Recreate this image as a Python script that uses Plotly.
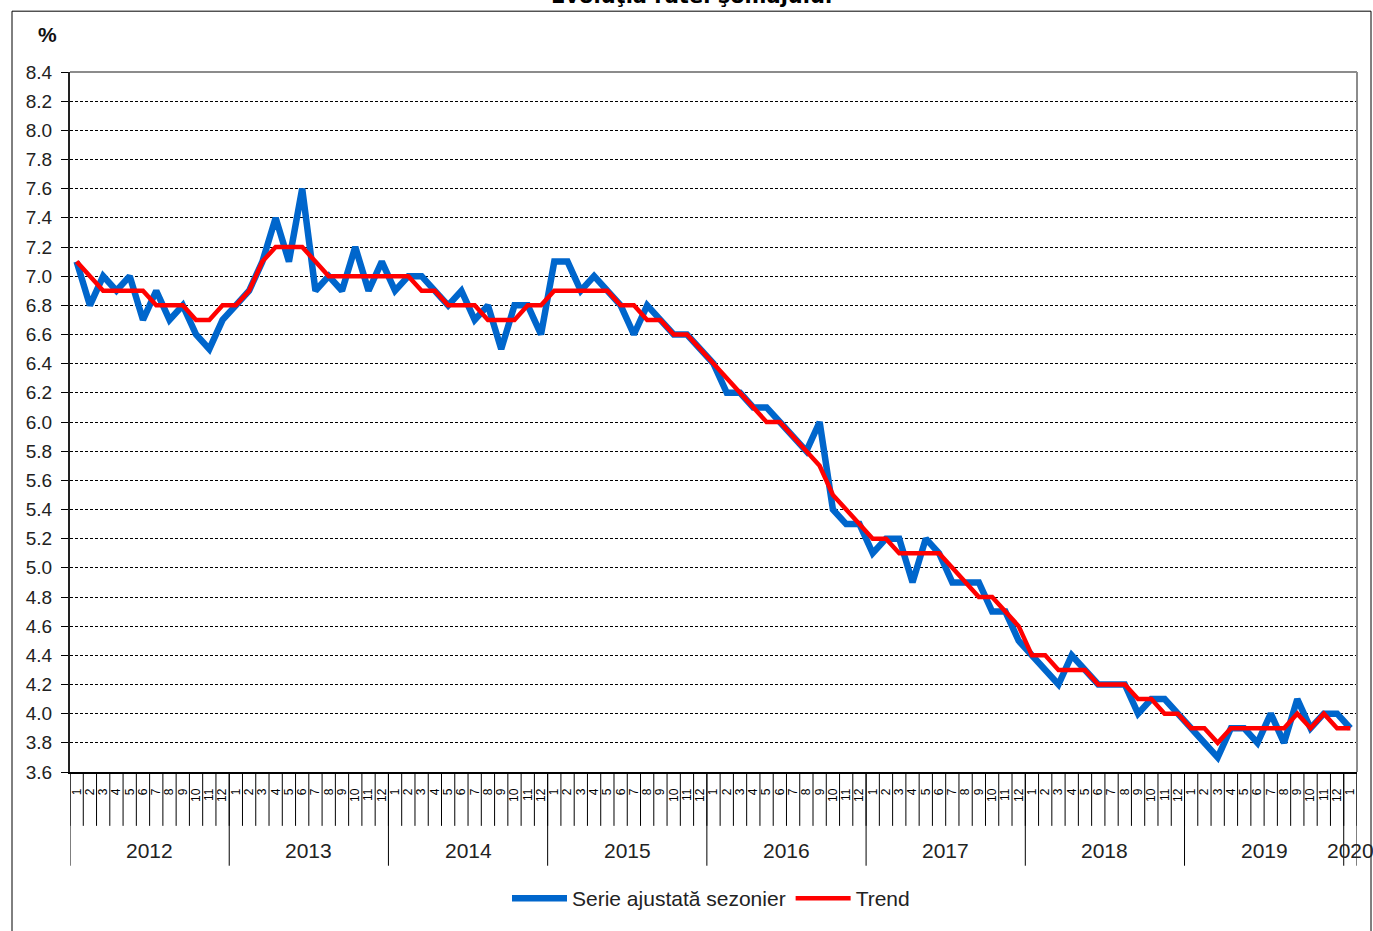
import plotly.graph_objects as go

# ---------------- data ----------------
years = [2012, 2013, 2014, 2015, 2016, 2017, 2018, 2019, 2020]
month_labels = [str(m) for y in years[:-1] for m in range(1, 13)] + ["1"]

seasonally_adjusted = [
    7.1, 6.8, 7.0, 6.9, 7.0, 6.7, 6.9, 6.7, 6.8, 6.6, 6.5, 6.7,   # 2012
    6.8, 6.9, 7.1, 7.4, 7.1, 7.6, 6.9, 7.0, 6.9, 7.2, 6.9, 7.1,   # 2013
    6.9, 7.0, 7.0, 6.9, 6.8, 6.9, 6.7, 6.8, 6.5, 6.8, 6.8, 6.6,   # 2014
    7.1, 7.1, 6.9, 7.0, 6.9, 6.8, 6.6, 6.8, 6.7, 6.6, 6.6, 6.5,   # 2015
    6.4, 6.2, 6.2, 6.1, 6.1, 6.0, 5.9, 5.8, 6.0, 5.4, 5.3, 5.3,   # 2016
    5.1, 5.2, 5.2, 4.9, 5.2, 5.1, 4.9, 4.9, 4.9, 4.7, 4.7, 4.5,   # 2017
    4.4, 4.3, 4.2, 4.4, 4.3, 4.2, 4.2, 4.2, 4.0, 4.1, 4.1, 4.0,   # 2018
    3.9, 3.8, 3.7, 3.9, 3.9, 3.8, 4.0, 3.8, 4.1, 3.9, 4.0, 4.0,   # 2019
    3.9,                                                          # 2020
]
trend = [
    7.1, 7.0, 6.9, 6.9, 6.9, 6.9, 6.8, 6.8, 6.8, 6.7, 6.7, 6.8,
    6.8, 6.9, 7.1, 7.2, 7.2, 7.2, 7.1, 7.0, 7.0, 7.0, 7.0, 7.0,
    7.0, 7.0, 6.9, 6.9, 6.8, 6.8, 6.8, 6.7, 6.7, 6.7, 6.8, 6.8,
    6.9, 6.9, 6.9, 6.9, 6.9, 6.8, 6.8, 6.7, 6.7, 6.6, 6.6, 6.5,
    6.4, 6.3, 6.2, 6.1, 6.0, 6.0, 5.9, 5.8, 5.7, 5.5, 5.4, 5.3,
    5.2, 5.2, 5.1, 5.1, 5.1, 5.1, 5.0, 4.9, 4.8, 4.8, 4.7, 4.6,
    4.4, 4.4, 4.3, 4.3, 4.3, 4.2, 4.2, 4.2, 4.1, 4.1, 4.0, 4.0,
    3.9, 3.9, 3.8, 3.9, 3.9, 3.9, 3.9, 3.9, 4.0, 3.9, 4.0, 3.9,
    3.9,
]

# ---------------- geometry helpers ----------------
W, H = 1373, 931
L, R, T, B = 70, 16, 72, 157
PW, PH = W - L - R, H - T - B


def px_x(x):
    return (x - L) / PW


def px_y(y):
    return (H - B - y) / PH


n = len(seasonally_adjusted)
idx = list(range(n))

fig = go.Figure()
fig.add_trace(go.Scatter(
    x=idx, y=seasonally_adjusted, mode="lines", name="Serie ajustată sezonier",
    line=dict(color="#0066CC", width=6.5),
))
fig.add_trace(go.Scatter(
    x=idx, y=trend, mode="lines", name="Trend",
    line=dict(color="#FF0000", width=4.5),
))

FONT = "Liberation Sans, Arial, sans-serif"

shapes = []
# month separators below the axis
for k in range(n + 1):
    shapes.append(dict(type="line", xref="x", yref="paper",
                       x0=k - 0.5, x1=k - 0.5, y0=0, y1=px_y(828),
                       line=dict(color="#000000", width=1)))
# year separators
year_edges = [12 * k - 0.5 for k in range(len(years))] + [n - 0.5]
for e in year_edges:
    shapes.append(dict(type="line", xref="x", yref="paper",
                       x0=e, x1=e, y0=0, y1=px_y(868),
                       line=dict(color="#000000", width=1)))
# gray top and right plot border
shapes.append(dict(type="line", xref="paper", yref="paper", x0=0, x1=1, y0=1, y1=1,
                   line=dict(color="#8C8C8C", width=2), layer="above"))
shapes.append(dict(type="line", xref="paper", yref="paper", x0=1, x1=1, y0=0, y1=1,
                   line=dict(color="#8C8C8C", width=2), layer="above"))
# outer chart frame
shapes.append(dict(type="rect", xref="paper", yref="paper",
                   x0=px_x(12), x1=px_x(1371), y0=px_y(936), y1=px_y(11),
                   line=dict(color="#000000", width=1), fillcolor="rgba(0,0,0,0)"))

annotations = []
for k, yr in enumerate(years):
    start = 12 * k
    end = min(12 * k + 11, n - 1)
    annotations.append(dict(x=(start + end) / 2, y=px_y(853), xref="x", yref="paper",
                            text=str(yr), showarrow=False, xanchor="center", yanchor="middle",
                            font=dict(family=FONT, size=21, color="#222222")))
annotations.append(dict(x=px_x(47), y=px_y(34), xref="paper", yref="paper", text="<b>%</b>",
                        showarrow=False, xanchor="center", yanchor="middle",
                        font=dict(family=FONT, size=21, color="#111111")))
annotations.append(dict(x=px_x(691), y=px_y(10), xref="paper", yref="paper",
                        text="<b>Evoluţia ratei şomajului</b>", showarrow=False,
                        xanchor="center", yanchor="bottom",
                        font=dict(family="DejaVu Sans, sans-serif", size=21, color="#000000")))

fig.update_layout(
    width=W, height=H,
    margin=dict(l=L, r=R, t=T, b=B, pad=0),
    paper_bgcolor="white", plot_bgcolor="white",
    font=dict(family=FONT, color="#222222"),
    showlegend=True,
    legend=dict(orientation="h", x=px_x(711), xanchor="center", y=px_y(901), yanchor="middle",
                font=dict(family=FONT, size=21, color="#222222"), itemwidth=55,
                bgcolor="rgba(0,0,0,0)", tracegroupgap=0),
    shapes=shapes,
    annotations=annotations,
)

fig.update_xaxes(
    range=[-0.5, n - 0.5], showgrid=False, zeroline=False,
    showline=True, linecolor="#000000", linewidth=1.5,
    tickmode="array", tickvals=idx, ticktext=month_labels,
    tickangle=-90, ticks="", ticklabelstandoff=10,
    tickfont=dict(family=FONT, size=12, color="#000000"),
)
fig.update_yaxes(
    range=[3.6, 8.4], dtick=0.2, tick0=3.6, tickformat=".1f",
    showgrid=True, gridcolor="#000000", gridwidth=1, griddash="3px,2px",
    zeroline=False, showline=True, linecolor="#222222", linewidth=2,
    ticks="outside", ticklen=7, tickcolor="#000000", ticklabelstandoff=5,
    tickfont=dict(family=FONT, size=19, color="#222222"),
)

fig.write_html("out.html", config={"displayModeBar": False},
               post_script="document.body.style.margin='0';document.body.style.overflow='hidden';")
